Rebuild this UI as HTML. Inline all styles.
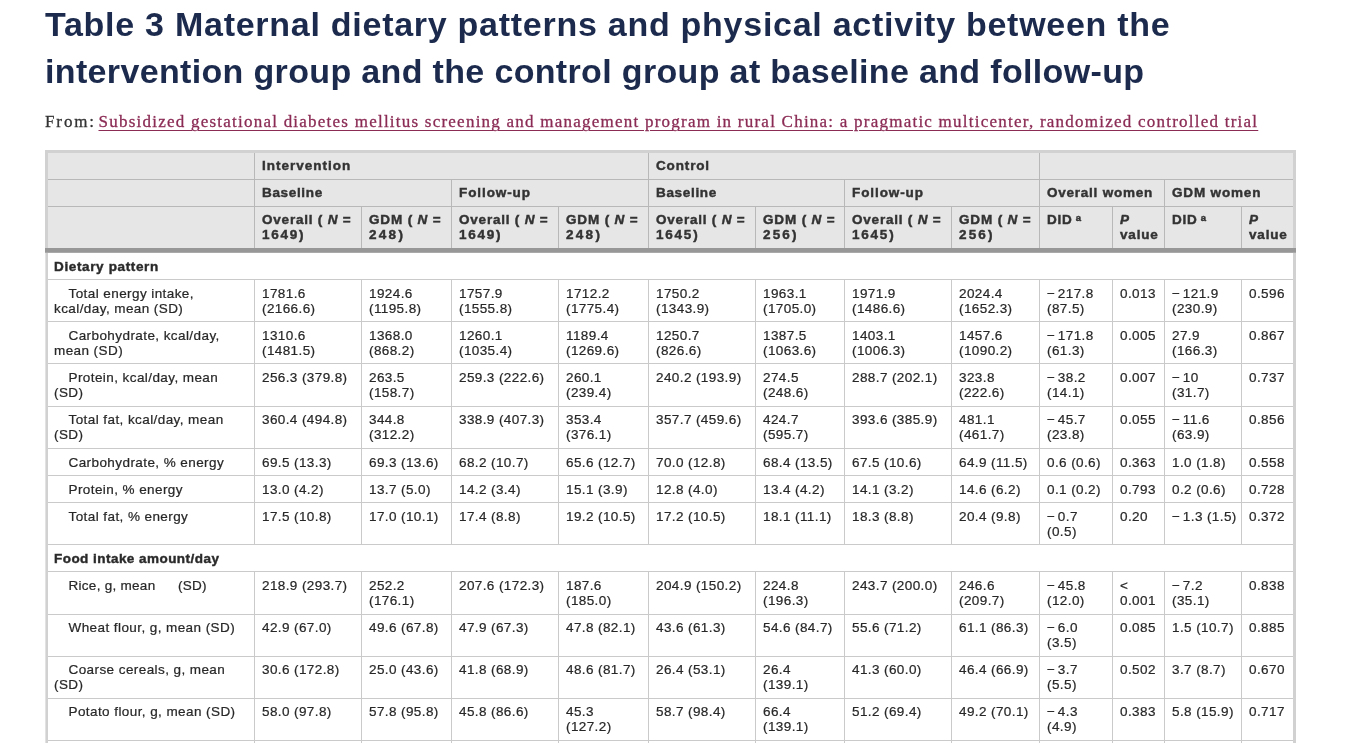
<!DOCTYPE html><html><head><meta charset="utf-8"><title>Table 3</title><style>

html,body{margin:0;padding:0;background:#fff;}
html{width:1358px;height:743px;overflow:hidden;}
body{width:1358px;height:743px;overflow:hidden;position:relative;font-family:"Liberation Sans",sans-serif;}
#pg{position:absolute;left:0;top:0;width:1358px;height:743px;overflow:hidden;will-change:transform;}
h1{margin:0;font-family:"Liberation Sans",sans-serif;font-weight:700;font-size:34px;line-height:40px;color:#1c2b4d;white-space:nowrap;}
h1 span{position:absolute;left:45px;display:block;}
h1 .l1{top:4px;letter-spacing:0.733px;}
h1 .l2{top:51px;letter-spacing:0.344px;}
.from{margin:0;font-family:"Liberation Serif",serif;font-size:17px;line-height:24px;color:#333;white-space:nowrap;-webkit-text-stroke:0.3px #333;}
.from span{position:absolute;left:45px;top:110px;letter-spacing:1.88px;}
.from a{position:absolute;left:98.5px;top:110px;color:#8b2c55;-webkit-text-stroke:0.3px #8b2c55;text-decoration:underline;text-decoration-thickness:1px;text-underline-offset:2.5px;letter-spacing:1.234px;}
.wrap{position:absolute;left:45px;top:150px;width:1245px;height:590px;overflow:visible;border:3px solid #d1d1d1;border-bottom:none;background:#fff;}
.wrap:before{content:"";position:absolute;left:-3px;top:100px;width:1px;height:520px;background:#e2e2e2;}
.thick{position:absolute;left:-3px;top:95px;width:1251px;height:5px;background:linear-gradient(#979797 0,#979797 4px,#a9a9a9 4px,#a9a9a9 5px);}
table{border-collapse:separate;border-spacing:0;table-layout:fixed;width:1245px;font-size:13.5px;line-height:15px;color:#282828;letter-spacing:0.4px;-webkit-text-stroke:0.22px #282828;}
td,th{box-sizing:border-box;border-right:1px solid #cacaca;border-bottom:1px solid #cacaca;padding:6px 0 0 7px;text-align:left;vertical-align:top;font-weight:400;white-space:nowrap;overflow:hidden;}
td:last-child,th:last-child{border-right:none;}
thead th{background:#e6e6e6;font-weight:700;color:#333;font-size:13.5px;padding-top:5px;-webkit-text-stroke:0.45px #333;border-color:#b8b8b8;}
tr.sec td{font-weight:700;font-size:13.5px;border-right:none;-webkit-text-stroke:0.45px #333;}
td.lab{text-indent:14.5px;letter-spacing:0.42px;}
td:first-child,th:first-child{padding-left:6px;}
.m{margin-right:2.5px;}
.gap{display:inline-block;width:22.5px;}
sup{font-size:9.5px;line-height:0;vertical-align:3.4px;margin-left:3.2px;letter-spacing:0;}

</style></head><body>
<div id="pg">
<h1><span class="l1">Table 3 Maternal dietary patterns and physical activity between the</span><span class="l2">intervention group and the control group at baseline and follow-up</span></h1>
<p class="from"><span>From:</span><a>Subsidized gestational diabetes mellitus screening and management program in rural China: a pragmatic multicenter, randomized controlled trial</a></p>
<div class="wrap"><table><colgroup>
<col style="width:207px">
<col style="width:107px">
<col style="width:90px">
<col style="width:107px">
<col style="width:90px">
<col style="width:107px">
<col style="width:89px">
<col style="width:107px">
<col style="width:88px">
<col style="width:73px">
<col style="width:52px">
<col style="width:77px">
<col style="width:51px">
</colgroup><thead>
<tr style="height:27px"><th></th><th colspan="4"><span style="letter-spacing:0.99px">Intervention</span></th><th colspan="4"><span style="letter-spacing:0.85px">Control</span></th><th colspan="4"></th></tr>
<tr style="height:27px"><th></th><th colspan="2"><span style="letter-spacing:0.67px">Baseline</span></th><th colspan="2"><span style="letter-spacing:0.91px">Follow-up</span></th><th colspan="2"><span style="letter-spacing:0.67px">Baseline</span></th><th colspan="2"><span style="letter-spacing:0.91px">Follow-up</span></th><th colspan="2"><span style="letter-spacing:0.76px">Overall women</span></th><th colspan="2"><span style="letter-spacing:0.83px">GDM women</span></th></tr>
<tr class="h3" style="height:46px"><th></th><th><span style="letter-spacing:0.79px">Overall ( <i>N</i> =</span><br><span style="letter-spacing:1.77px">1649)</span></th><th><span style="letter-spacing:0.85px">GDM ( <i>N</i> =</span><br><span style="letter-spacing:2.29px">248)</span></th><th><span style="letter-spacing:0.79px">Overall ( <i>N</i> =</span><br><span style="letter-spacing:1.77px">1649)</span></th><th><span style="letter-spacing:0.85px">GDM ( <i>N</i> =</span><br><span style="letter-spacing:2.29px">248)</span></th><th><span style="letter-spacing:0.79px">Overall ( <i>N</i> =</span><br><span style="letter-spacing:1.77px">1645)</span></th><th><span style="letter-spacing:0.85px">GDM ( <i>N</i> =</span><br><span style="letter-spacing:2.12px">256)</span></th><th><span style="letter-spacing:0.79px">Overall ( <i>N</i> =</span><br><span style="letter-spacing:1.77px">1645)</span></th><th><span style="letter-spacing:0.85px">GDM ( <i>N</i> =</span><br><span style="letter-spacing:2.12px">256)</span></th><th><span style="letter-spacing:0.78px">DID</span><sup>a</sup></th><th><span style="letter-spacing:-0.02px"><i>P</i></span><br><span style="letter-spacing:0.82px">value</span></th><th><span style="letter-spacing:0.78px">DID</span><sup>a</sup></th><th><span style="letter-spacing:-0.02px"><i>P</i></span><br><span style="letter-spacing:0.82px">value</span></th></tr>
</thead><tbody>
<tr class="sec" style="height:27px"><td colspan="13"><span style="letter-spacing:0.64px">Dietary pattern</span></td></tr>
<tr style="height:42px"><td class="lab">Total energy intake,<br>kcal/day, mean (SD)</td><td>1781.6<br>(2166.6)</td><td>1924.6<br>(1195.8)</td><td>1757.9<br>(1555.8)</td><td>1712.2<br>(1775.4)</td><td>1750.2<br>(1343.9)</td><td>1963.1<br>(1705.0)</td><td>1971.9<br>(1486.6)</td><td>2024.4<br>(1652.3)</td><td><span class="m">−</span>217.8<br>(87.5)</td><td>0.013</td><td><span class="m">−</span>121.9<br>(230.9)</td><td>0.596</td></tr>
<tr style="height:42px"><td class="lab">Carbohydrate, kcal/day,<br>mean (SD)</td><td>1310.6<br>(1481.5)</td><td>1368.0<br>(868.2)</td><td>1260.1<br>(1035.4)</td><td>1189.4<br>(1269.6)</td><td>1250.7<br>(826.6)</td><td>1387.5<br>(1063.6)</td><td>1403.1<br>(1006.3)</td><td>1457.6<br>(1090.2)</td><td><span class="m">−</span>171.8<br>(61.3)</td><td>0.005</td><td>27.9<br>(166.3)</td><td>0.867</td></tr>
<tr style="height:43px"><td class="lab">Protein, kcal/day, mean<br>(SD)</td><td>256.3 (379.8)</td><td>263.5<br>(158.7)</td><td>259.3 (222.6)</td><td>260.1<br>(239.4)</td><td>240.2 (193.9)</td><td>274.5<br>(248.6)</td><td>288.7 (202.1)</td><td>323.8<br>(222.6)</td><td><span class="m">−</span>38.2<br>(14.1)</td><td>0.007</td><td><span class="m">−</span>10<br>(31.7)</td><td>0.737</td></tr>
<tr style="height:42px"><td class="lab" style="padding-top:5px">Total fat, kcal/day, mean<br>(SD)</td><td style="padding-top:5px">360.4 (494.8)</td><td style="padding-top:5px">344.8<br>(312.2)</td><td style="padding-top:5px">338.9 (407.3)</td><td style="padding-top:5px">353.4<br>(376.1)</td><td style="padding-top:5px">357.7 (459.6)</td><td style="padding-top:5px">424.7<br>(595.7)</td><td style="padding-top:5px">393.6 (385.9)</td><td style="padding-top:5px">481.1<br>(461.7)</td><td style="padding-top:5px"><span class="m">−</span>45.7<br>(23.8)</td><td style="padding-top:5px">0.055</td><td style="padding-top:5px"><span class="m">−</span>11.6<br>(63.9)</td><td style="padding-top:5px">0.856</td></tr>
<tr style="height:27px"><td class="lab">Carbohydrate, % energy</td><td>69.5 (13.3)</td><td>69.3 (13.6)</td><td>68.2 (10.7)</td><td>65.6 (12.7)</td><td>70.0 (12.8)</td><td>68.4 (13.5)</td><td>67.5 (10.6)</td><td>64.9 (11.5)</td><td>0.6 (0.6)</td><td>0.363</td><td>1.0 (1.8)</td><td>0.558</td></tr>
<tr style="height:27px"><td class="lab">Protein, % energy</td><td>13.0 (4.2)</td><td>13.7 (5.0)</td><td>14.2 (3.4)</td><td>15.1 (3.9)</td><td>12.8 (4.0)</td><td>13.4 (4.2)</td><td>14.1 (3.2)</td><td>14.6 (6.2)</td><td>0.1 (0.2)</td><td>0.793</td><td>0.2 (0.6)</td><td>0.728</td></tr>
<tr style="height:42px"><td class="lab">Total fat, % energy</td><td>17.5 (10.8)</td><td>17.0 (10.1)</td><td>17.4 (8.8)</td><td>19.2 (10.5)</td><td>17.2 (10.5)</td><td>18.1 (11.1)</td><td>18.3 (8.8)</td><td>20.4 (9.8)</td><td><span class="m">−</span>0.7<br>(0.5)</td><td>0.20</td><td><span class="m">−</span>1.3 (1.5)</td><td>0.372</td></tr>
<tr class="sec" style="height:27px"><td colspan="13"><span style="letter-spacing:0.46px">Food intake amount/day</span></td></tr>
<tr style="height:43px"><td class="lab"><span style="letter-spacing:0.28px">Rice, g, mean<span class="gap"></span>(SD)</span></td><td>218.9 (293.7)</td><td>252.2<br>(176.1)</td><td>207.6 (172.3)</td><td>187.6<br>(185.0)</td><td>204.9 (150.2)</td><td>224.8<br>(196.3)</td><td>243.7 (200.0)</td><td>246.6<br>(209.7)</td><td><span class="m">−</span>45.8<br>(12.0)</td><td>&lt;<br>0.001</td><td><span class="m">−</span>7.2<br>(35.1)</td><td>0.838</td></tr>
<tr style="height:42px"><td class="lab" style="padding-top:5px">Wheat flour, g, mean (SD)</td><td style="padding-top:5px">42.9 (67.0)</td><td style="padding-top:5px">49.6 (67.8)</td><td style="padding-top:5px">47.9 (67.3)</td><td style="padding-top:5px">47.8 (82.1)</td><td style="padding-top:5px">43.6 (61.3)</td><td style="padding-top:5px">54.6 (84.7)</td><td style="padding-top:5px">55.6 (71.2)</td><td style="padding-top:5px">61.1 (86.3)</td><td style="padding-top:5px"><span class="m">−</span>6.0<br>(3.5)</td><td style="padding-top:5px">0.085</td><td style="padding-top:5px">1.5 (10.7)</td><td style="padding-top:5px">0.885</td></tr>
<tr style="height:42px"><td class="lab" style="padding-top:5px">Coarse cereals, g, mean<br>(SD)</td><td style="padding-top:5px">30.6 (172.8)</td><td style="padding-top:5px">25.0 (43.6)</td><td style="padding-top:5px">41.8 (68.9)</td><td style="padding-top:5px">48.6 (81.7)</td><td style="padding-top:5px">26.4 (53.1)</td><td style="padding-top:5px">26.4<br>(139.1)</td><td style="padding-top:5px">41.3 (60.0)</td><td style="padding-top:5px">46.4 (66.9)</td><td style="padding-top:5px"><span class="m">−</span>3.7<br>(5.5)</td><td style="padding-top:5px">0.502</td><td style="padding-top:5px">3.7 (8.7)</td><td style="padding-top:5px">0.670</td></tr>
<tr style="height:42px"><td class="lab" style="padding-top:5px">Potato flour, g, mean (SD)</td><td style="padding-top:5px">58.0 (97.8)</td><td style="padding-top:5px">57.8 (95.8)</td><td style="padding-top:5px">45.8 (86.6)</td><td style="padding-top:5px">45.3<br>(127.2)</td><td style="padding-top:5px">58.7 (98.4)</td><td style="padding-top:5px">66.4<br>(139.1)</td><td style="padding-top:5px">51.2 (69.4)</td><td style="padding-top:5px">49.2 (70.1)</td><td style="padding-top:5px"><span class="m">−</span>4.3<br>(4.9)</td><td style="padding-top:5px">0.383</td><td style="padding-top:5px">5.8 (15.9)</td><td style="padding-top:5px">0.717</td></tr>
<tr style="height:42px"><td class="lab"></td><td></td><td></td><td></td><td></td><td></td><td></td><td></td><td></td><td></td><td></td><td></td><td></td></tr>
</tbody></table><div class="thick"></div></div></div></body></html>
